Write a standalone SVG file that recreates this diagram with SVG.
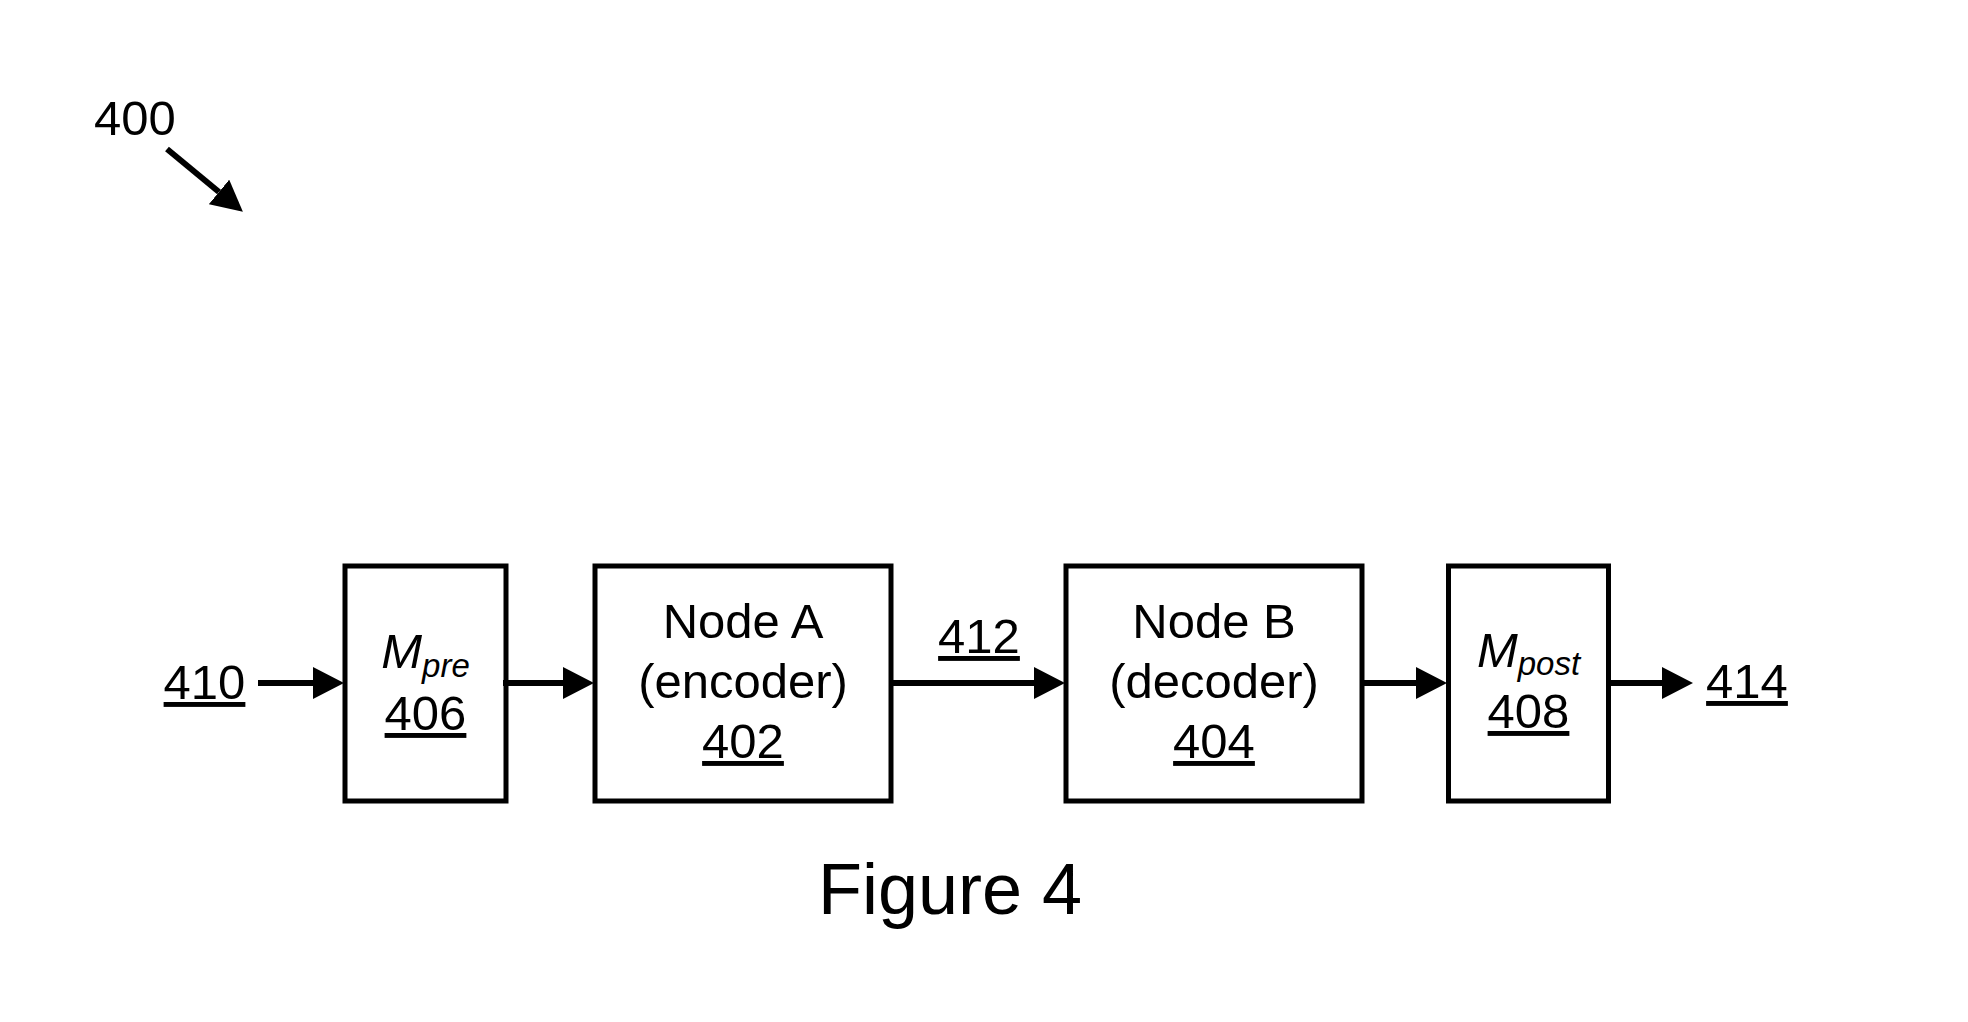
<svg xmlns="http://www.w3.org/2000/svg" width="1968" height="1022" viewBox="0 0 1968 1022">
<style>
.box{fill:none;stroke:#000;stroke-width:5}
.t{font-family:"Liberation Sans",Arial,sans-serif;font-size:49px;fill:#000}
.u{text-decoration:underline}
.c{text-anchor:middle}
.conn line{stroke:#000;stroke-width:6}
</style>
<defs>
<marker id="ah" markerUnits="userSpaceOnUse" markerWidth="31" markerHeight="32" refX="0" refY="16" orient="auto" viewBox="0 0 31 32">
<path d="M0,0 L31,16 L0,32 Z" fill="#000"/>
</marker>
</defs>
<rect width="1968" height="1022" fill="#fff"/>
<g id="label-400">
<text class="t" x="94" y="135">400</text>
</g>
<g id="node-406">
<rect class="box" x="345" y="566" width="161" height="235"/>
<text class="t c" x="425.5" y="668"><tspan font-style="italic">M</tspan><tspan font-size="33" font-style="italic" dy="9">pre</tspan></text>
<text class="t c u" x="425.5" y="730">406</text>
</g>
<g id="node-402">
<rect class="box" x="595" y="566" width="296" height="235"/>
<text class="t c" x="743" y="638">Node A</text>
<text class="t c" x="743" y="698">(encoder)</text>
<text class="t c u" x="743" y="758">402</text>
</g>
<g id="node-404">
<rect class="box" x="1066" y="566" width="296" height="235"/>
<text class="t c" x="1214" y="638">Node B</text>
<text class="t c" x="1214" y="698">(decoder)</text>
<text class="t c u" x="1214" y="758">404</text>
</g>
<g id="node-408">
<rect class="box" x="1448.5" y="566" width="160" height="235"/>
<text class="t c" x="1528.5" y="667"><tspan font-style="italic">M</tspan><tspan font-size="33" font-style="italic" dy="8">post</tspan></text>
<text class="t c u" x="1528.5" y="728">408</text>
</g>
<g id="labels">
<text class="t c u" x="204.5" y="699">410</text>
<text class="t c u" x="979" y="653">412</text>
<text class="t c u" x="1747" y="698">414</text>
<text class="t c" x="950" y="914" style="font-size:72px">Figure 4</text>
</g>
<g id="connectors" class="conn">
<line x1="167" y1="149" x2="219" y2="192" marker-end="url(#ah)"/>
<line x1="258" y1="683" x2="313" y2="683" marker-end="url(#ah)"/>
<line x1="503" y1="683" x2="563" y2="683" marker-end="url(#ah)"/>
<line x1="891" y1="683" x2="1034" y2="683" marker-end="url(#ah)"/>
<line x1="1362" y1="683" x2="1416" y2="683" marker-end="url(#ah)"/>
<line x1="1608" y1="683" x2="1662" y2="683" marker-end="url(#ah)"/>
</g>
</svg>
